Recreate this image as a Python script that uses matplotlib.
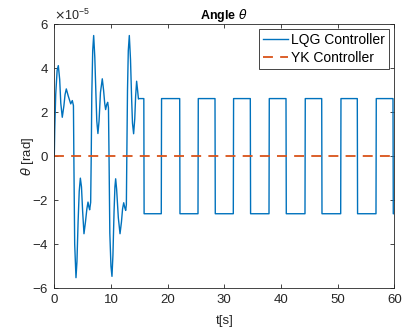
import numpy as np
import matplotlib
matplotlib.use("Agg")
import matplotlib.pyplot as plt
from matplotlib.ticker import ScalarFormatter

plt.rcParams['font.family'] = ['Liberation Sans', 'DejaVu Sans']
plt.rcParams['axes.unicode_minus'] = False
plt.rcParams['mathtext.fontset'] = 'dejavusans'

# LQG response, transient part (t in s, theta in 1e-5 rad)
t_transient = [0.0, 0.08, 0.25, 0.5, 0.71, 0.95, 1.15, 1.41, 1.7, 1.9, 2.12, 2.45, 2.9, 3.18, 3.38,
               3.47, 3.6, 3.83, 4.0, 4.2, 4.4, 4.6, 4.8, 5.0, 5.24, 5.5, 5.75, 5.95, 6.1, 6.24, 6.42,
               6.52, 6.62, 6.78, 6.95, 7.15, 7.35, 7.5, 7.7, 7.9, 8.15, 8.47, 8.7, 8.9, 9.06, 9.25, 9.42, 9.56,
               9.66, 9.8, 10.0, 10.18, 10.35, 10.55, 10.7, 10.83, 11.0, 11.3, 11.6, 11.85, 12.05, 12.25, 12.45, 12.6, 12.72,
               12.8, 12.92, 13.06, 13.24, 13.45, 13.65, 13.8, 14.0, 14.2, 14.35, 14.53, 14.7, 14.85, 14.95, 15.78]
theta_transient = [0.0, 1.2, 2.8, 3.9, 4.12, 3.5, 2.4, 1.77, 2.3, 2.8, 3.06, 2.75, 2.38, 2.53, 2.3,
                   -0.5, -4.0, -5.53, -4.8, -3.0, -1.6, -1.0, -1.4, -2.5, -3.53, -3.0, -2.4, -2.09, -2.3, -2.44, -2.1,
                   0.0, 2.8, 4.8, 5.49, 4.5, 2.8, 1.6, 1.03, 1.6, 2.9, 3.52, 3.0, 2.4, 2.12, 2.35, 2.45, 2.2,
                   0.0, -3.5, -5.0, -5.47, -4.5, -2.5, -1.4, -1.03, -1.5, -2.8, -3.53, -3.0, -2.4, -2.12, -2.35, -2.47, -2.2,
                   0.0, 3.0, 4.8, 5.49, 4.4, 2.6, 1.5, 1.02, 1.7, 2.7, 3.41, 3.0, 2.6, 2.62, 2.62]

# square-wave part: switching instants and levels
edge_times = [15.8, 18.88, 22.13, 25.36, 28.36, 31.59, 34.59, 37.89, 40.89, 44.24,
              47.19, 50.54, 53.47, 56.77, 59.77]
level_high = 2.62
level_low = -2.62
t_end = 60.0

# YK controller keeps theta at zero
t_yk = [0.0, 60.0]
y_yk = [0.0, 0.0]

# build the step part of the LQG trace from the switching instants
t_steps = []
y_steps = []
prev = level_high
for te in edge_times:
    nxt = level_low if prev == level_high else level_high
    t_steps += [te, te + 0.05]
    y_steps += [prev, nxt]
    prev = nxt
t_steps.append(t_end)
y_steps.append(prev)

t_lqg = np.array(t_transient[:-1] + t_steps)
y_lqg = np.array(theta_transient[:-1] + y_steps) * 1e-5

fig = plt.figure(figsize=(4.03, 3.29), dpi=100)
ax = fig.add_axes([0.1347, 0.1246, 0.8437, 0.8015])

ax.plot(t_lqg, y_lqg, color='#0072BD', lw=1.0, label='LQG Controller')
ax.plot(t_yk, y_yk, color='#D95319', lw=1.3, ls=(0, (5.5, 4)), label='YK Controller')

ax.set_xlim(0, 60)
ax.set_ylim(-6e-5, 6e-5)
ax.set_xticks(np.arange(0, 61, 10))
ax.set_yticks(np.arange(-6e-5, 6.1e-5, 2e-5))
fmt = ScalarFormatter(useMathText=True)
fmt.set_powerlimits((0, 0))
ax.yaxis.set_major_formatter(fmt)
ax.yaxis.get_offset_text().set_fontsize(9)
ax.yaxis.get_offset_text().set_color('#262626')

ax.tick_params(direction='in', length=3, width=0.6, colors='#262626', labelsize=9.5,
               top=True, right=True, pad=4)
for sp in ax.spines.values():
    sp.set_linewidth(0.6)
    sp.set_color('#262626')

ax.set_title(r'Angle $\theta$', fontsize=9, fontweight='bold', pad=4)
ax.set_xlabel('t[s]', fontsize=9.5, color='#262626', labelpad=7)
ax.set_ylabel(r'$\theta$ [rad]', fontsize=9.5, color='#262626', labelpad=-3)

leg = ax.legend(loc='upper right', fontsize=10, fancybox=False, framealpha=1,
                edgecolor='#262626', borderpad=0.3, handlelength=1.8, labelspacing=0.25,
                handletextpad=0.25, borderaxespad=0.35)
leg.get_frame().set_linewidth(0.6)

fig.savefig('out.png', dpi=100)
